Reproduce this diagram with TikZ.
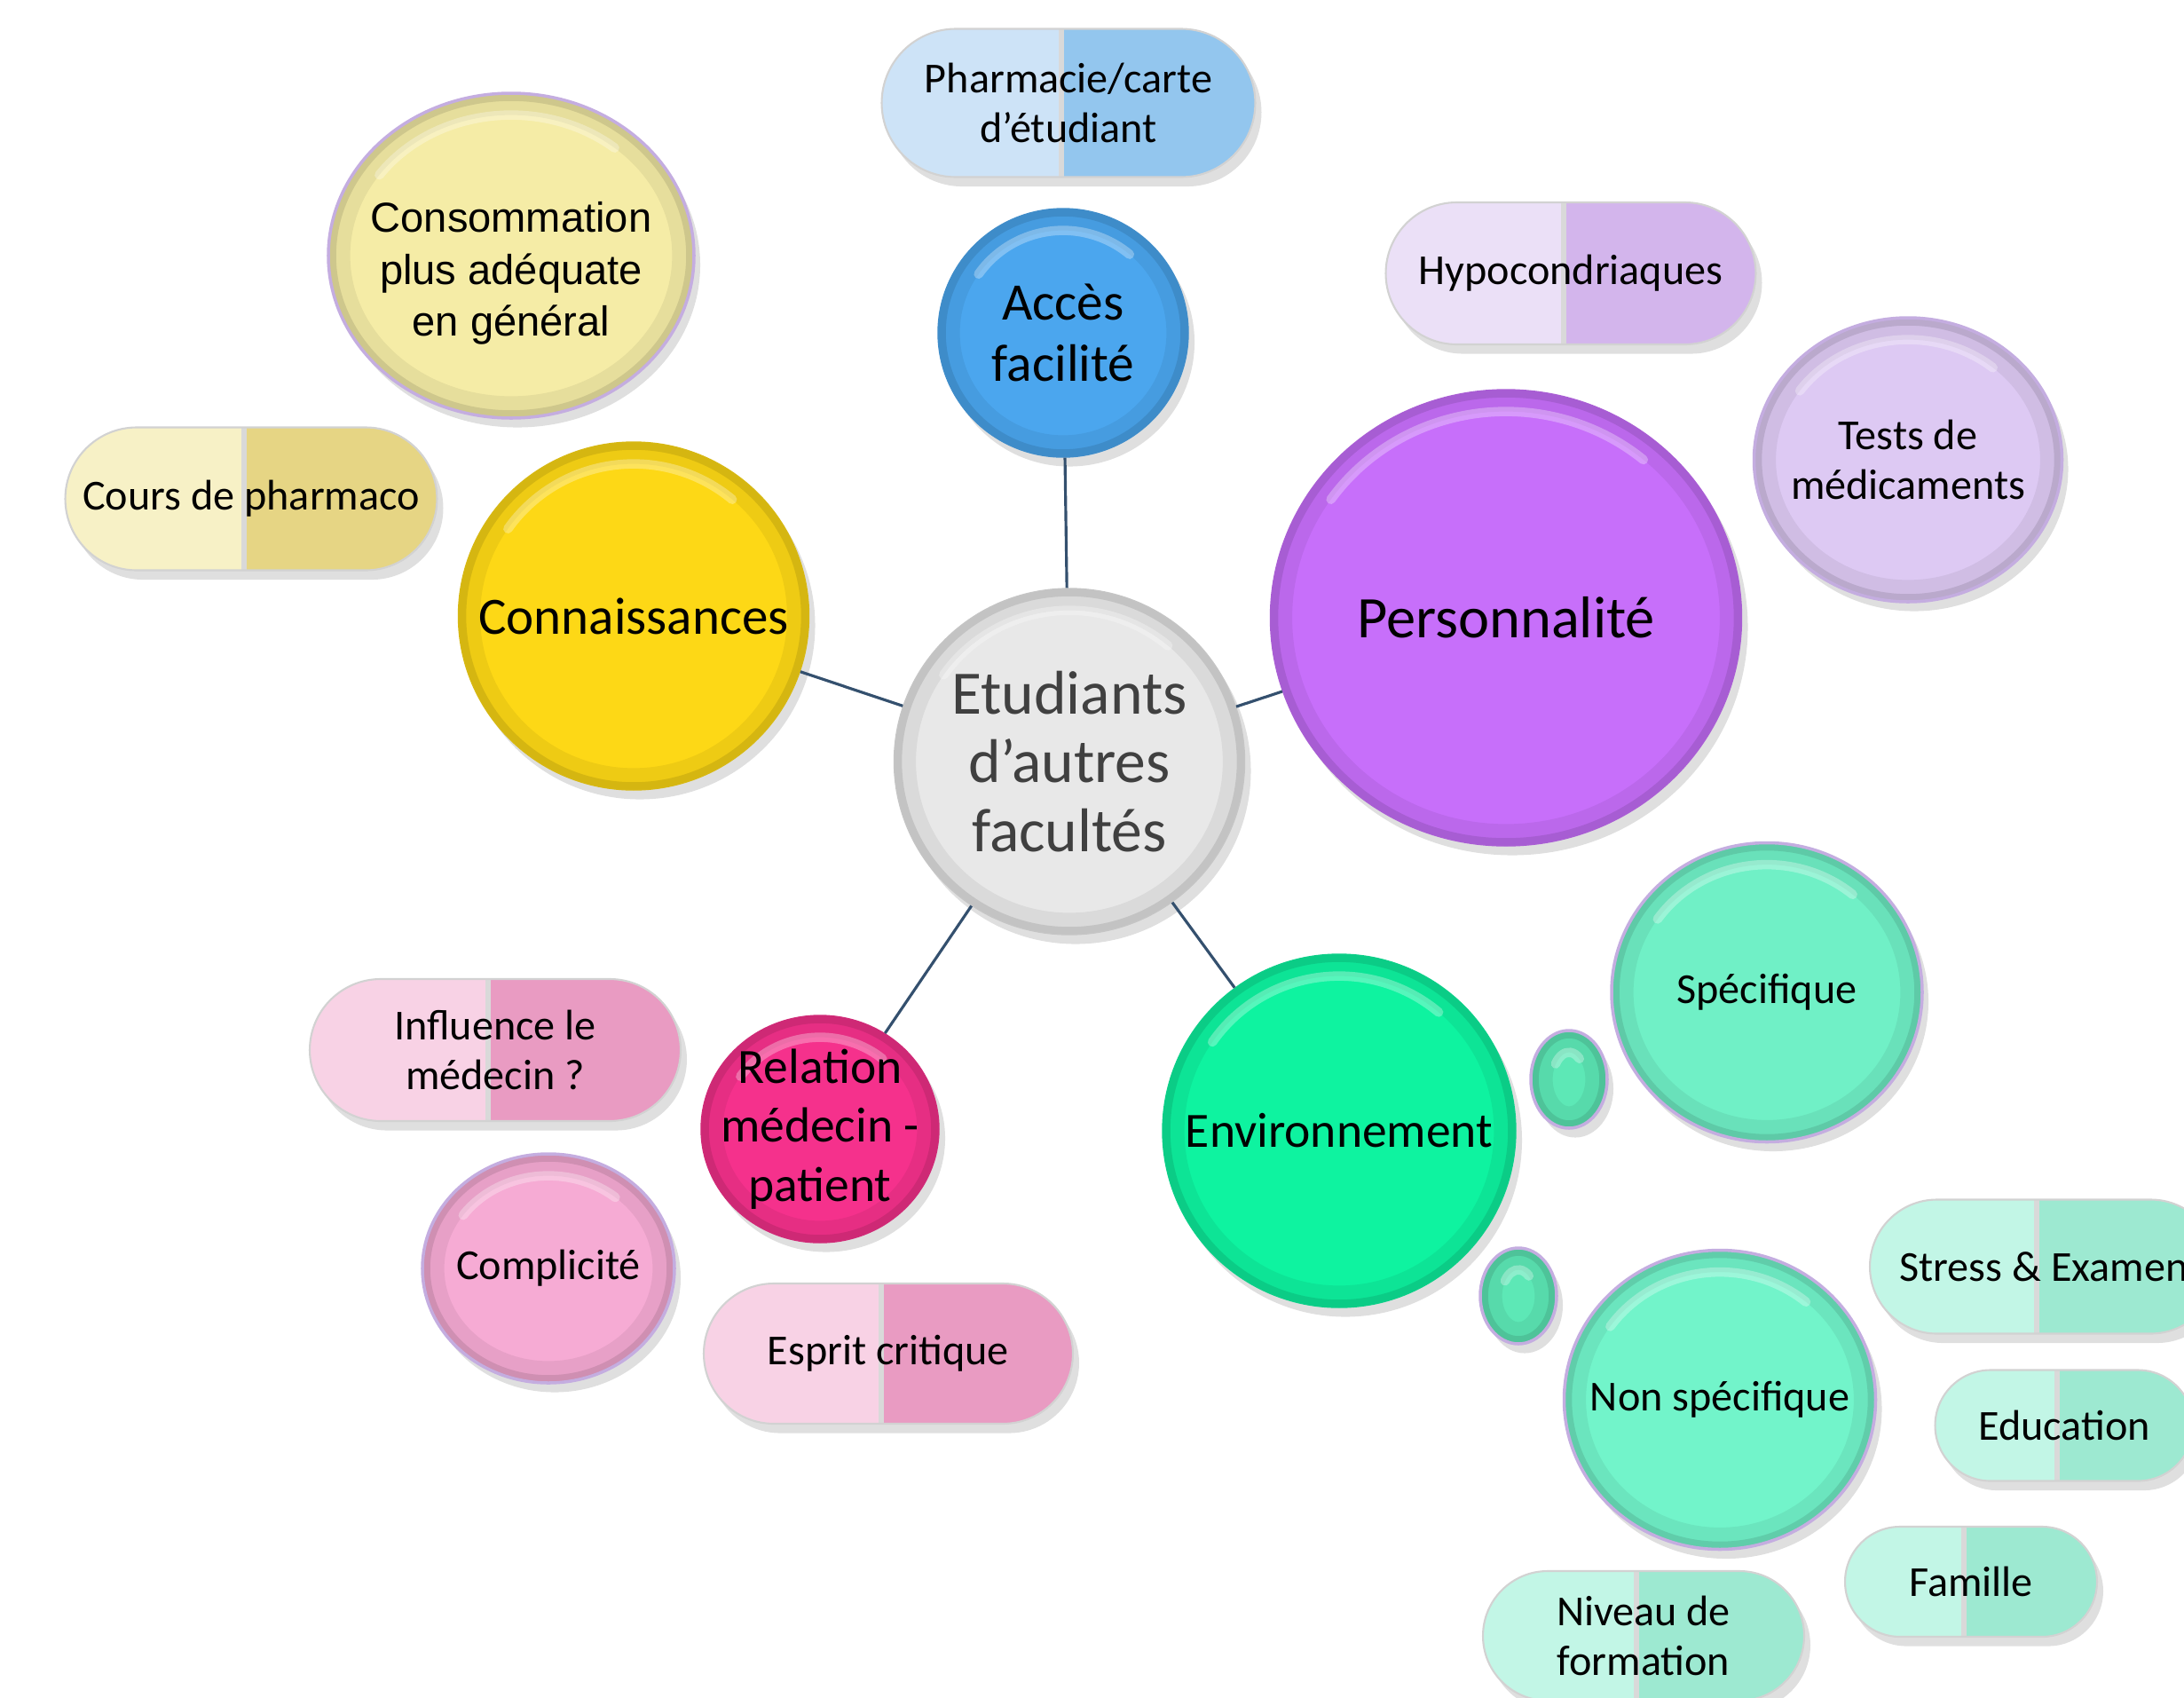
\documentclass[tikz,border=0pt]{standalone}
\usepackage{fontspec}
\setmainfont{Carlito}
\newfontfamily\arialfont{Liberation Sans}
\usetikzlibrary{shapes.geometric,shapes.misc,shadows,calc}

\definecolor{linkblue}{HTML}{34506E}
\definecolor{etudgray}{HTML}{E8E8E8}
\definecolor{etudtext}{HTML}{404040}
\definecolor{accesblue}{HTML}{4BA6EE}
\definecolor{pharmaL}{HTML}{CDE3F7}
\definecolor{pharmaR}{HTML}{93C6EE}
\definecolor{consofill}{HTML}{F5ECA6}
\definecolor{coursL}{HTML}{F7F1C6}
\definecolor{coursR}{HTML}{E6D584}
\definecolor{connfill}{HTML}{FDD816}
\definecolor{hypoL}{HTML}{EBE0F7}
\definecolor{hypoR}{HTML}{D3B5EC}
\definecolor{testsfill}{HTML}{DDC9F3}
\definecolor{persofill}{HTML}{C76FFA}
\definecolor{specfill}{HTML}{70F0C6}
\definecolor{blobfill}{HTML}{5DE8B6}
\definecolor{envfill}{HTML}{0EF3A0}
\definecolor{nonspecfill}{HTML}{72F4CA}
\definecolor{tealL}{HTML}{C2F6E6}
\definecolor{tealR}{HTML}{9DE9D1}
\definecolor{relfill}{HTML}{F5318C}
\definecolor{influL}{HTML}{F8D2E5}
\definecolor{influR}{HTML}{E99BC2}
\definecolor{complfill}{HTML}{F6ABD4}
\definecolor{rimlilac}{HTML}{C4ADE0}

\tikzset{
    bevel/.style={path picture={
        \draw[black, opacity=.06, line width=14pt] let \p1=($(path picture bounding box.north east)-(path picture bounding box.center)$) in
            (path picture bounding box.center) ellipse [x radius=\x1, y radius=\y1];
        \draw[black, opacity=.10, line width=5pt] let \p1=($(path picture bounding box.north east)-(path picture bounding box.center)$) in
            (path picture bounding box.center) ellipse [x radius=\x1, y radius=\y1];
        \draw[white, opacity=.30, line width=3pt, line cap=round] let \p1=($(path picture bounding box.north east)-(path picture bounding box.center)$) in
            ($(path picture bounding box.center)+(145:{\x1-7pt} and {\y1-7pt})$)
            arc [start angle=145, end angle=50, x radius={\x1-7pt}, y radius={\y1-7pt}];
    }},
    bubble/.style={ellipse, inner sep=0pt,
        draw=#1!85!black, line width=0.4pt, fill=#1,
        drop shadow={opacity=.25, shadow xshift=2pt, shadow yshift=-3pt}, bevel},
    pill/.style 2 args={rounded rectangle, inner sep=2pt, align=center,
        font=\fontsize{13.7}{15.8}\selectfont,
        draw=gray!35, line width=0.6pt, fill=#2,
        drop shadow={opacity=.25, shadow xshift=2pt, shadow yshift=-3pt},
        path picture={
            \fill[#1] (path picture bounding box.south west) rectangle ([xshift=-0.08cm]path picture bounding box.north);
            \draw[white!70!gray, line width=1.5pt] ([xshift=-0.08cm]path picture bounding box.south)
                -- ([xshift=-0.08cm]path picture bounding box.north);
        }},
}

\begin{document}
\begin{tikzpicture}[
    link/.style={draw=linkblue, line width=0.9pt},
    small/.style={align=center, inner sep=0pt, font=\fontsize{13.7}{15.8}\selectfont},
    lilac/.style={draw=rimlilac, line width=1pt},
]
    \clip (0,0) rectangle (24.61,-19.13);

    % Centre
    \node[bubble=etudgray, minimum width=3.95cm, minimum height=3.90cm,
        label={[align=center, text=etudtext, font=\fontsize{19.8}{22}\selectfont]center:Etudiants\\d’autres\\facultés}] (etud) at (12.05,-8.58) {};

    % Acces
    \node[bubble=accesblue, minimum width=2.82cm, minimum height=2.80cm,
        label={[align=center, font=\fontsize{16.9}{19.6}\selectfont]center:Accès\\facilité}] (acces) at (11.98,-3.75) {};
    \node[pill={pharmaL}{pharmaR}, minimum width=4.35cm, minimum height=1.67cm] (pharma) at (12.04,-1.16) {Pharmacie/carte\\d’étudiant};

    % Connaissances
    \node[bubble=connfill, minimum width=3.95cm, minimum height=3.92cm,
        label={[font=\fontsize{16.8}{19}\selectfont]center:Connaissances}] (conn) at (7.14,-6.94) {};
    \node[bubble=consofill, lilac, minimum width=4.12cm, minimum height=3.66cm,
        label={[align=center, yshift=-0.2cm, font=\arialfont\fontsize{13.4}{16.6}\selectfont]center:Consommation\\plus adéquate\\en général}] (conso) at (5.76,-2.88) {};
    \node[pill={coursL}{coursR}, minimum width=4.33cm, minimum height=1.61cm] (cours) at (2.83,-5.62) {Cours de pharmaco};

    % Personnalite
    \node[bubble=persofill, minimum width=5.31cm, minimum height=5.14cm,
        label={[font=\fontsize{18.9}{21}\selectfont]center:Personnalité}] (perso) at (16.97,-6.96) {};
    \node[pill={hypoL}{hypoR}, minimum width=4.31cm, minimum height=1.60cm] (hypo) at (17.70,-3.08) {Hypocondriaques};
    \node[bubble=testsfill, lilac, minimum width=3.47cm, minimum height=3.20cm,
        label={[small]center:Tests de\\médicaments}] (tests) at (21.50,-5.18) {};

    % Environnement
    \node[bubble=envfill, minimum width=3.98cm, minimum height=3.98cm,
        label={[font=\fontsize{15.8}{18}\selectfont]center:Environnement}] (env) at (15.09,-12.74) {};
    \node[bubble=blobfill, lilac, minimum width=0.86cm, minimum height=1.10cm] (blobA) at (17.68,-12.16) {};
    \node[bubble=blobfill, lilac, minimum width=0.86cm, minimum height=1.08cm] (blobB) at (17.11,-14.60) {};
    \node[bubble=specfill, lilac, minimum width=3.50cm, minimum height=3.37cm,
        label={[small]center:Spécifique}] (spec) at (19.91,-11.18) {};
    \node[bubble=nonspecfill, lilac, minimum width=3.51cm, minimum height=3.37cm,
        label={[small]center:Non spécifique}] (nonspec) at (19.38,-15.77) {};
    \node[pill={tealL}{tealR}, minimum width=4.06cm, minimum height=1.51cm] (stress) at (23.03,-14.27) {Stress \& Examen};
    \node[pill={tealL}{tealR}, minimum width=3.05cm, minimum height=1.25cm] (educ) at (23.26,-16.06) {Education};
    \node[pill={tealL}{tealR}, minimum width=2.98cm, minimum height=1.24cm] (famille) at (22.21,-17.82) {Famille};
    \node[pill={tealL}{tealR}, minimum width=3.76cm, minimum height=1.46cm] (niveau) at (18.52,-18.43) {Niveau de\\formation};

    % Relation medecin - patient
    \node[bubble=relfill, minimum width=2.68cm, minimum height=2.56cm,
        label={[align=center, font=\fontsize{15.8}{19}\selectfont]center:Relation\\médecin -\\patient}] (relation) at (9.24,-12.72) {};
    \node[pill={influL}{influR}, minimum width=4.32cm, minimum height=1.60cm] (influ) at (5.58,-11.83) {Influence le\\médecin ?};
    \node[bubble=complfill, lilac, minimum width=2.84cm, minimum height=2.58cm,
        label={[small]center:Complicité}] (compl) at (6.18,-14.29) {};
    \node[pill={influL}{influR}, minimum width=4.30cm, minimum height=1.58cm] (esprit) at (10.01,-15.25) {Esprit critique};

    % Liens
    \draw[link] (etud) -- (acces);
    \draw[link] (etud) -- (conn);
    \draw[link] (etud) -- (perso);
    \draw[link] (etud) -- (env);
    \draw[link] (etud) -- (relation);
\end{tikzpicture}
\end{document}
